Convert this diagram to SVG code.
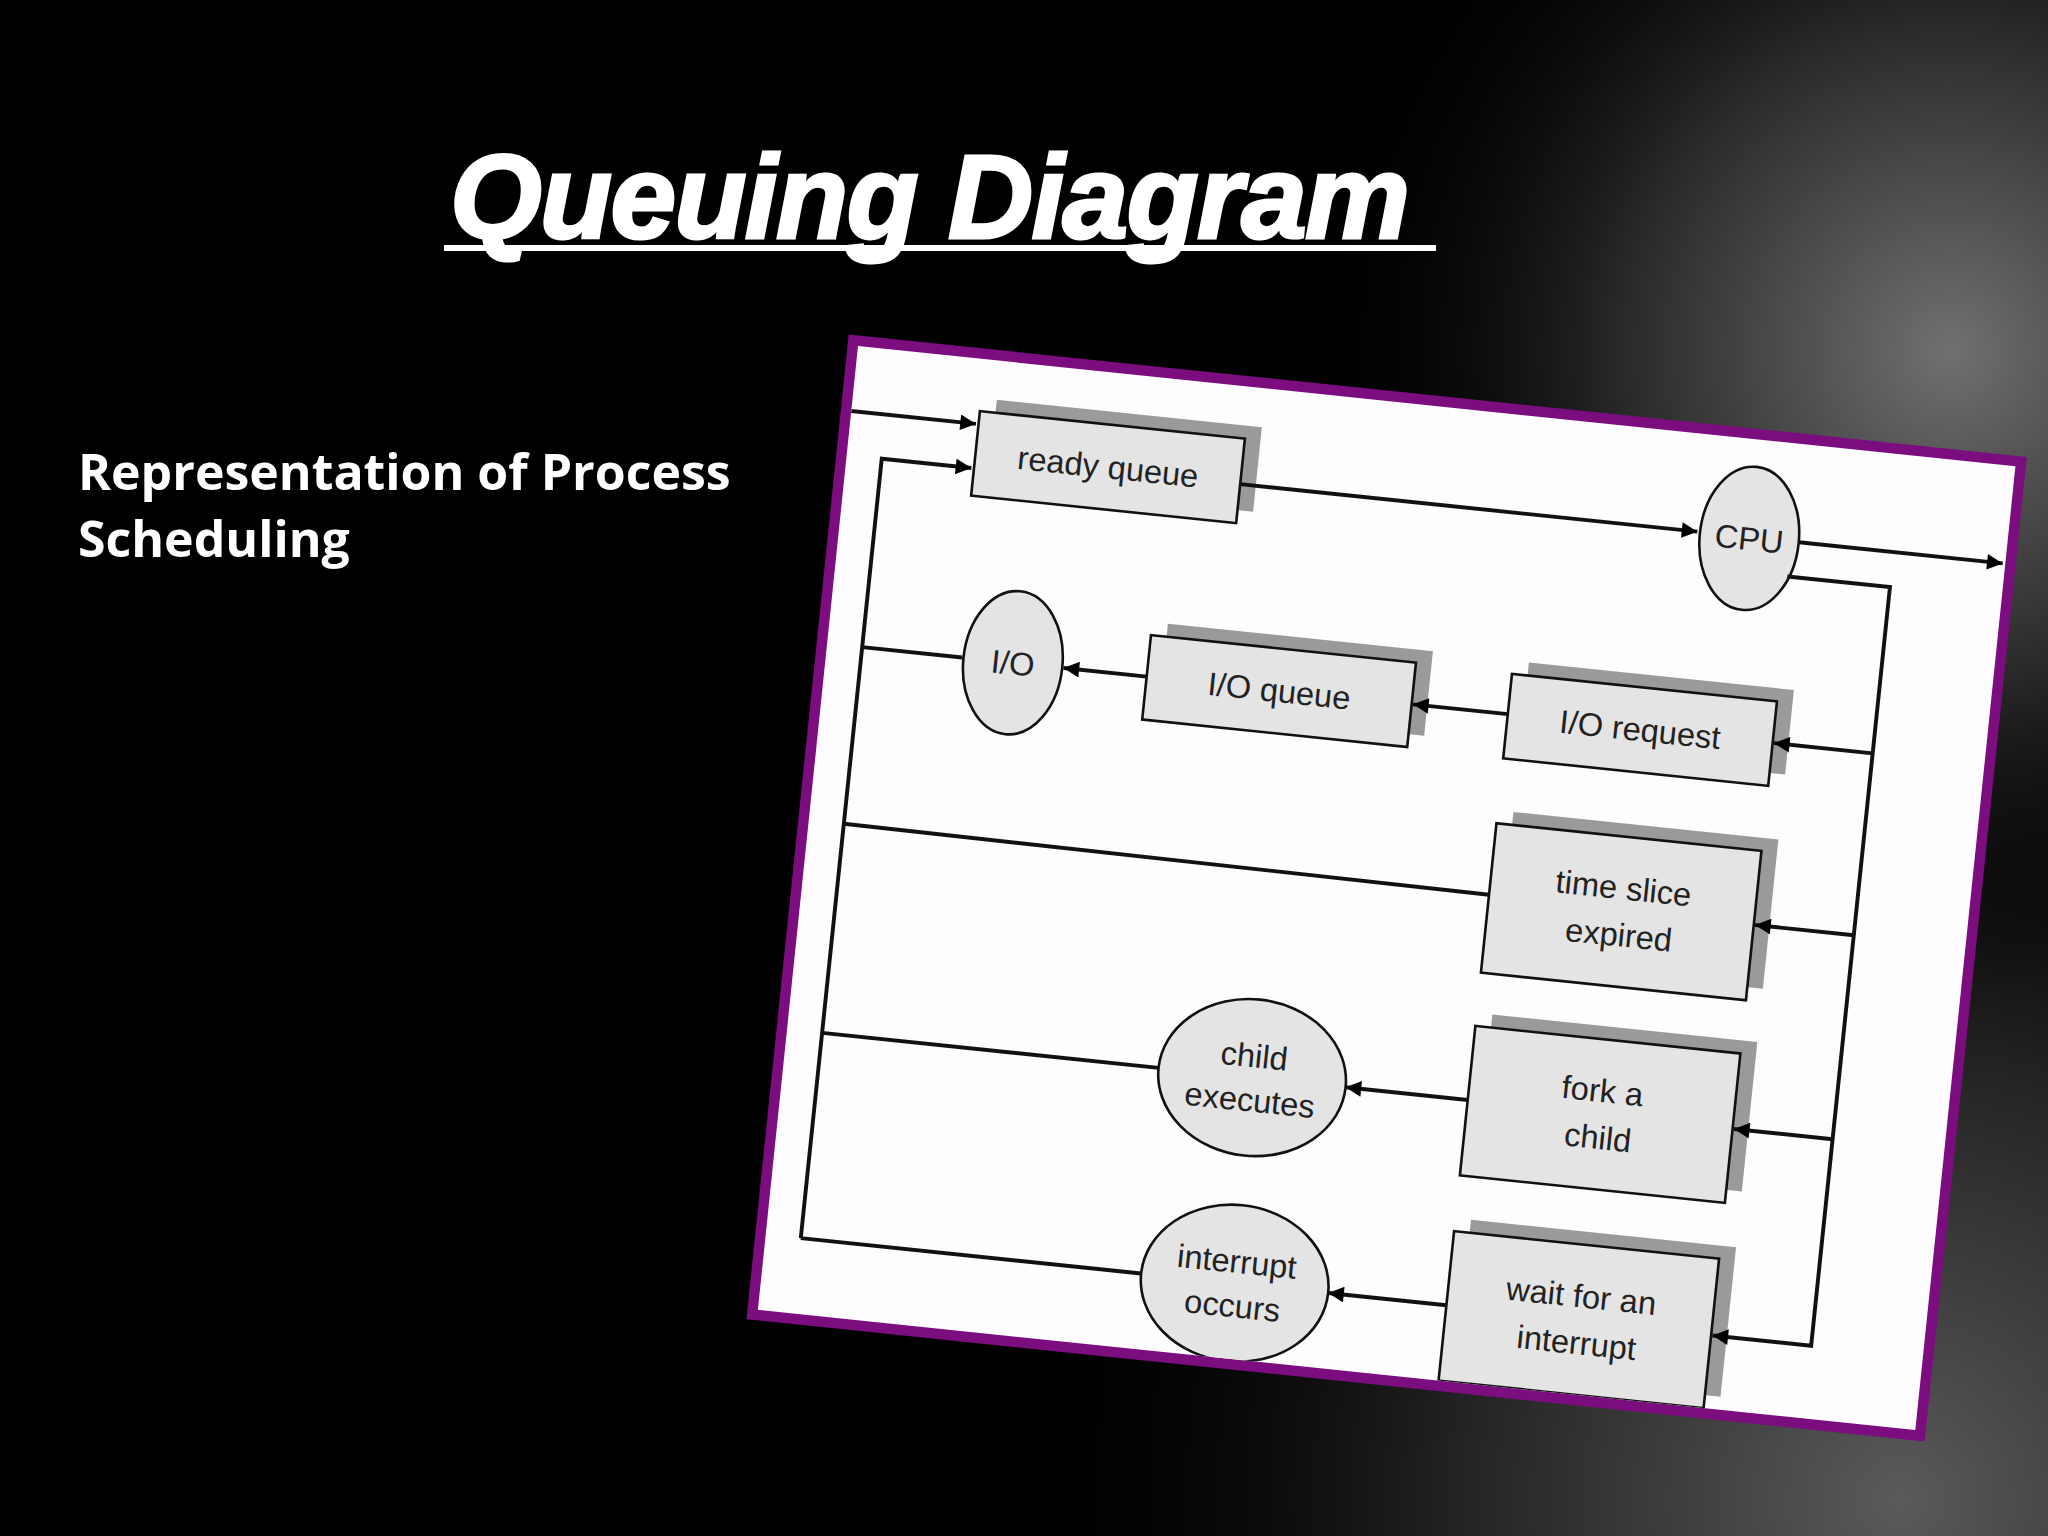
<svg xmlns="http://www.w3.org/2000/svg" width="2048" height="1536" viewBox="0 0 2048 1536">
<defs>
<radialGradient id="g1" cx="1900" cy="1500" r="900" gradientUnits="userSpaceOnUse"><stop offset="0" stop-color="#5a5a5a"/><stop offset="0.5" stop-color="#222"/><stop offset="1" stop-color="#000" stop-opacity="0"/></radialGradient>
<radialGradient id="g2" cx="1950" cy="350" r="650" gradientUnits="userSpaceOnUse"><stop offset="0" stop-color="#707070"/><stop offset="0.5" stop-color="#2a2a2a"/><stop offset="1" stop-color="#000" stop-opacity="0"/></radialGradient>
<marker id="a" viewBox="0 0 10 10" refX="10" refY="5" markerWidth="14" markerHeight="12" orient="auto" markerUnits="userSpaceOnUse"><path d="M0,0 L10,5 L0,10 z" fill="#000"/></marker>
<clipPath id="clip"><rect x="0" y="0" width="891" height="742"/></clipPath>
<style>
.box{fill:#e4e4e4;stroke:#111;stroke-width:2}
.sh{fill:#9a9a9a}
.ln{fill:none;stroke:#111;stroke-width:3}
.t{font-family:"Liberation Sans",Arial,sans-serif;font-size:25px;fill:#222;text-anchor:middle}
</style>
</defs>
<rect width="2048" height="1536" fill="#000"/>
<rect width="2048" height="1536" fill="url(#g1)"/>
<rect width="2048" height="1536" fill="url(#g2)"/>
<g id="title">
<text x="450" y="238" font-family="Liberation Sans,Arial,sans-serif" font-weight="bold" font-style="italic" font-size="118" fill="#fff" stroke="#fff" stroke-width="3" textLength="960">Queuing Diagram</text>
<rect x="444" y="245" width="992" height="6" fill="#fff"/>
</g>
<g id="subtitle" font-family="Open Sans,Liberation Sans,sans-serif" font-weight="bold" font-size="50" fill="#fff">
<text x="78" y="490">Representation of Process</text>
<text x="78" y="557">Scheduling</text>
</g>
<g transform="translate(858,346) rotate(5.93) scale(1.306)">
<rect x="-8" y="-8" width="907" height="758" fill="#7b0d7f"/>
<rect x="0" y="0" width="891" height="742" fill="#fdfcfe"/>
<g clip-path="url(#clip)">
<g id="ready"><rect class="sh" x="110" y="30" width="204" height="65"/><rect class="box" x="98" y="40" width="204" height="65"/><text class="t" x="200" y="81">ready queue</text></g>
<g id="cpu"><ellipse cx="694" cy="76" rx="38" ry="55" class="box"/><text class="t" x="694" y="85">CPU</text></g>
<g id="io"><ellipse cx="143" cy="229" rx="38" ry="55" class="box"/><text class="t" x="143" y="238">I/O</text></g>
<g id="ioqueue"><rect class="sh" x="258" y="187" width="204" height="65"/><rect class="box" x="246" y="197" width="204" height="65"/><text class="t" x="348" y="238">I/O queue</text></g>
<g id="iorequest"><rect class="sh" x="536" y="188" width="204" height="65"/><rect class="box" x="524" y="198" width="204" height="65"/><text class="t" x="626" y="239">I/O request</text></g>
<g id="timeslice"><rect class="sh" x="536" y="303" width="204" height="115"/><rect class="box" x="524" y="313" width="204" height="115"/><text class="t" x="626" y="361">time slice</text><text class="t" x="626" y="397">expired</text></g>
<g id="fork"><rect class="sh" x="536" y="459" width="204" height="115"/><rect class="box" x="524" y="469" width="204" height="115"/><text class="t" x="626" y="517">fork a</text><text class="t" x="626" y="553">child</text></g>
<g id="childexec"><ellipse cx="358" cy="526" rx="72" ry="60" class="box"/><text class="t" x="358" y="518">child</text><text class="t" x="358" y="552">executes</text></g>
<g id="wait"><rect class="sh" x="536" y="617" width="204" height="115"/><rect class="box" x="524" y="627" width="204" height="115"/><text class="t" x="626" y="675">wait for an</text><text class="t" x="626" y="711">interrupt</text></g>
<g id="interrupt"><ellipse cx="361" cy="684" rx="72" ry="60" class="box"/><text class="t" x="361" y="676">interrupt</text><text class="t" x="361" y="710">occurs</text></g>
<g id="connectors">
<path class="ln" d="M0,50 L96,50" marker-end="url(#a)"/>
<path class="ln" d="M27,684 L27,84 L96,84" marker-end="url(#a)"/>
<path class="ln" d="M302,75 L654,75" marker-end="url(#a)"/>
<path class="ln" d="M732,75 L889,75" marker-end="url(#a)"/>
<path class="ln" d="M726,102 L805,102 L805,686 L729,686" marker-end="url(#a)"/>
<path class="ln" d="M805,230 L729,230" marker-end="url(#a)"/>
<path class="ln" d="M524,229 L451,229" marker-end="url(#a)"/>
<path class="ln" d="M246,229 L182,229" marker-end="url(#a)"/>
<path class="ln" d="M104,229 L27,229"/>
<path class="ln" d="M805,370 L729,370" marker-end="url(#a)"/>
<path class="ln" d="M524,368 L27,365"/>
<path class="ln" d="M805,527 L729,527" marker-end="url(#a)"/>
<path class="ln" d="M524,526 L430,526" marker-end="url(#a)"/>
<path class="ln" d="M286,526 L27,526"/>
<path class="ln" d="M524,684 L433,684" marker-end="url(#a)"/>
<path class="ln" d="M289,684 L27,684"/>
</g>
</g>
</g>
</svg>
